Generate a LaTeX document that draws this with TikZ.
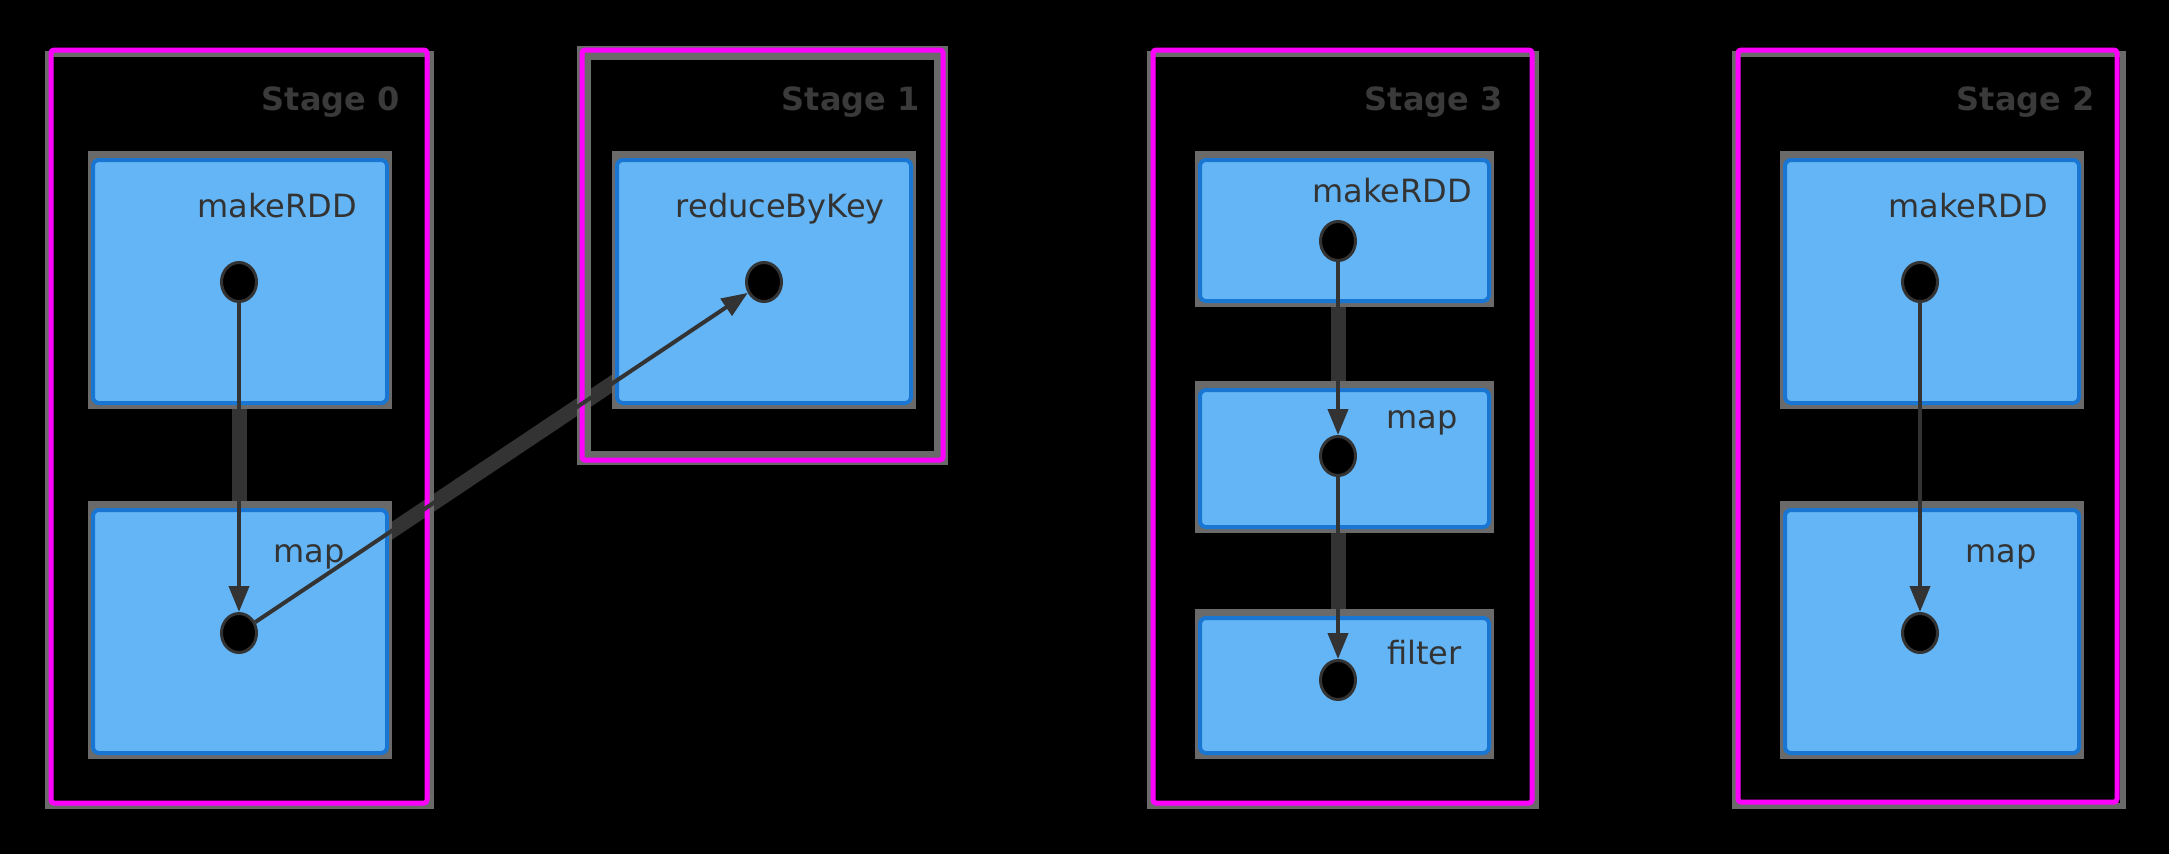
\documentclass[tikz,border=0pt]{standalone}
\usepackage{fontspec}
\setmainfont{DejaVu Sans}
\usetikzlibrary{arrows.meta,shapes.geometric}
\definecolor{boxfill}{HTML}{64B5F6}
\definecolor{boxline}{HTML}{1976D2}
\definecolor{shadowgray}{HTML}{6A6A6A}
\definecolor{stagepink}{HTML}{FF00FF}
\definecolor{inkgray}{HTML}{333333}
\definecolor{labelgray}{HTML}{3A3A3A}
\pgfdeclarelayer{bg}
\pgfdeclarelayer{thick}
\pgfdeclarelayer{frame}
\pgfdeclarelayer{shadow}
\pgfdeclarelayer{boxes}
\pgfsetlayers{bg,thick,frame,shadow,boxes,main}
\begin{document}
\begin{tikzpicture}[x=1pt,y=-1pt,
  opbox/.style={rectangle,fill=boxfill,draw=boxline,line width=4pt,rounded corners=6pt,inner sep=0pt},
  stageframe/.style={draw=stagepink,line width=5pt,rounded corners=3pt},
  stageshadow/.style={draw=shadowgray,line width=6pt},
  dotnode/.style={ellipse,fill=black,draw=inkgray,line width=3pt,minimum width=35pt,minimum height=39pt,inner sep=0pt},
  flow/.style={draw=inkgray,line width=4pt,-{Triangle[width=20pt,length=26pt]}},
  thickflow/.style={draw=inkgray,line width=15pt},
  oplabel/.style={anchor=base east,text=inkgray,font=\fontsize{32}{38}\selectfont,inner sep=0pt},
  stagelabel/.style={anchor=base east,text=labelgray,font=\fontsize{32}{38}\selectfont\bfseries,inner sep=0pt}]
\begin{pgfonlayer}{bg}
\fill[black] (0,0) rectangle (2169,854);
\end{pgfonlayer}
\useasboundingbox (0,0) rectangle (2169,854);

% operation boxes
\begin{pgfonlayer}{boxes}
\node[opbox,minimum width=294pt,minimum height=243pt] (b0a) at (240,281.5) {};
\node[opbox,minimum width=294pt,minimum height=243pt] (b0b) at (240,631.5) {};
\node[opbox,minimum width=294pt,minimum height=243pt] (b1a) at (764,281.5) {};
\node[opbox,minimum width=289pt,minimum height=141pt] (b3a) at (1344.5,230.5) {};
\node[opbox,minimum width=289pt,minimum height=137pt] (b3b) at (1344.5,458.5) {};
\node[opbox,minimum width=289pt,minimum height=135pt] (b3c) at (1344.5,685.5) {};
\node[opbox,minimum width=294pt,minimum height=243pt] (b2a) at (1932,281.5) {};
\node[opbox,minimum width=294pt,minimum height=243pt] (b2b) at (1932,631.5) {};
\end{pgfonlayer}
\begin{pgfonlayer}{shadow}
\foreach \b in {b0a,b0b,b1a,b3a,b3b,b3c,b2a,b2b}
  \fill[shadowgray] ([shift={(-3,-7)}]\b.north west) rectangle ([shift={(3,4)}]\b.south east);
\end{pgfonlayer}

% stage frames
\begin{pgfonlayer}{frame}
\draw[stageshadow] (48,54) rectangle (431,806);
\draw[stageframe] (51,50) rectangle (427,803);
\draw[stageshadow,line width=14pt] (584,53) rectangle (941,458);
\draw[stageframe] (582,50) rectangle (943,460);
\draw[stageshadow] (1150,54) rectangle (1536,806);
\draw[stageframe] (1153,50) rectangle (1532,803);
\draw[stageshadow] (1735,54) rectangle (2123,806);
\draw[stageframe] (1738,50) rectangle (2117,802);
\end{pgfonlayer}

% stage labels
\node[stagelabel] (st0) at (400,110) {Stage 0};
\node[stagelabel] (st1) at (920,110) {Stage 1};
\node[stagelabel] (st3) at (1503,110) {Stage 3};
\node[stagelabel] (st2) at (2095,110) {Stage 2};

% operation labels
\node[oplabel] (t0a) at (357,217) {makeRDD};
\node[oplabel] (t0b) at (345,562) {map};
\node[oplabel] (t1a) at (885,217) {reduceByKey};
\node[oplabel] (t3a) at (1472,202) {makeRDD};
\node[oplabel] (t3b) at (1458,428) {map};
\node[oplabel] (t3c) at (1462,664) {filter};
\node[oplabel] (t2a) at (2048,217) {makeRDD};
\node[oplabel] (t2b) at (2037,562) {map};

% dots
\node[dotnode] (d0a) at (239,282) {};
\node[dotnode] (d0b) at (239,633) {};
\node[dotnode] (d1a) at (764,282) {};
\node[dotnode] (d3a) at (1338,241) {};
\node[dotnode] (d3b) at (1338,456) {};
\node[dotnode] (d3c) at (1338,680) {};
\node[dotnode] (d2a) at (1920,282) {};
\node[dotnode] (d2b) at (1920,633) {};

% thick connector bodies (visible between boxes)
\begin{pgfonlayer}{thick}
\draw[thickflow] (d0a) -- (d0b);
\draw[thickflow] (d0b) -- (d1a);
\draw[thickflow] (d3a) -- (d3b);
\draw[thickflow] (d3b) -- (d3c);
\end{pgfonlayer}

% arrows
\draw[flow] (d0a) -- (d0b);
\draw[flow] (d0b) -- (d1a);
\draw[flow] (d3a) -- (d3b);
\draw[flow] (d3b) -- (d3c);
\draw[flow] (d2a) -- (d2b);
\end{tikzpicture}
\end{document}
